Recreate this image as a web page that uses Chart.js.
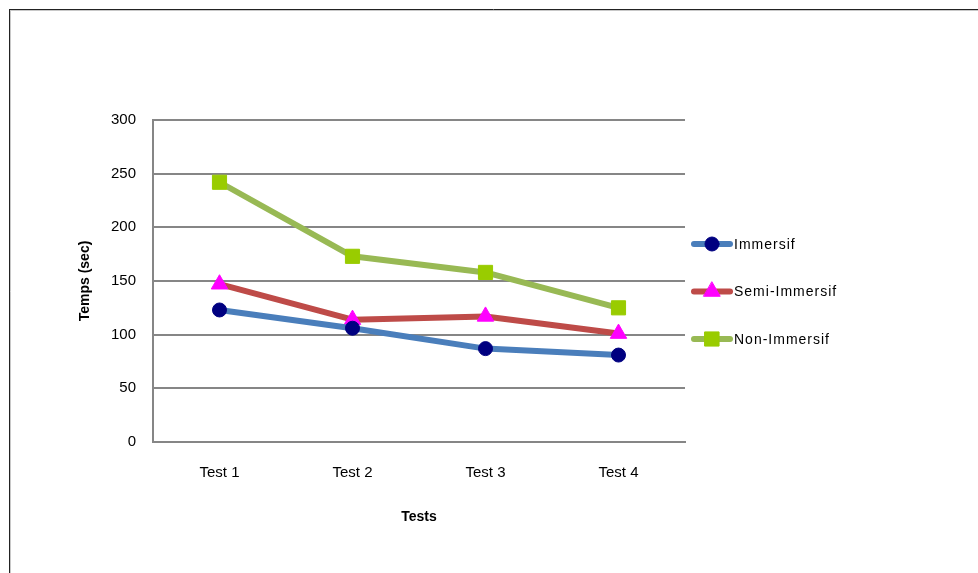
<!DOCTYPE html>
<html>
<head>
<meta charset="utf-8">
<script src="https://cdn.jsdelivr.net/npm/chart.js@4.4.1/dist/chart.umd.min.js"></script>
<style>
  html, body { margin: 0; padding: 0; background: #fff; }
  #wrap { width: 978px; height: 573px; position: relative; }
</style>
</head>
<body>
<div id="wrap"><canvas id="chart"></canvas></div>
<script>
const categories = ['Test 1', 'Test 2', 'Test 3', 'Test 4'];
const immersif = [123, 106, 87, 81];
const semiImmersif = [147, 114, 117, 101];
const nonImmersif = [242, 173, 158, 125];
const seriesNames = ['Immersif', 'Semi-Immersif', 'Non-Immersif'];

const GRID = '#868686';

// frame around the chart (top and left edges only, like the source)
const framePlugin = {
  id: 'frame',
  beforeDraw(chart) {
    const ctx = chart.ctx;
    ctx.save();
    ctx.strokeStyle = '#c8c8c8';
    ctx.lineWidth = 1;
    ctx.beginPath();
    ctx.moveTo(10, 10.5); ctx.lineTo(978, 10.5);
    ctx.moveTo(10.5, 10); ctx.lineTo(10.5, 573);
    ctx.stroke();
    ctx.strokeStyle = '#222';
    ctx.beginPath();
    ctx.moveTo(9, 9.5); ctx.lineTo(978, 9.5);
    ctx.moveTo(9.5, 9); ctx.lineTo(9.5, 573);
    ctx.stroke();
    ctx.restore();
  }
};

// legend drawn as line sample + marker, like the spreadsheet legend
const lineLegend = {
  id: 'lineLegend',
  afterDraw(chart) {
    const ctx = chart.ctx;
    const x0 = chart.chartArea.right + 6;
    const y0 = 244;
    const gap = 47.5;
    ctx.save();
    chart.data.datasets.forEach((ds, i) => {
      const y = y0 + i * gap;
      ctx.strokeStyle = ds.borderColor;
      ctx.lineWidth = 6;
      ctx.lineCap = 'round';
      ctx.beginPath();
      ctx.moveTo(x0 + 3, y);
      ctx.lineTo(x0 + 39, y);
      ctx.stroke();
      ctx.fillStyle = ds.pointBackgroundColor;
      ctx.strokeStyle = ds.pointBackgroundColor;
      ctx.lineWidth = 1;
      Chart.helpers.drawPoint(ctx, {
        pointStyle: ds.pointStyle,
        radius: ds.pointRadius,
        borderWidth: 1,
        rotation: 0
      }, x0 + 21, y);
      ctx.fillStyle = '#000';
      ctx.font = '14px "Liberation Sans", Arial, sans-serif';
      ctx.letterSpacing = '1px';
      ctx.textAlign = 'left';
      ctx.textBaseline = 'middle';
      ctx.fillText(ds.label, x0 + 43, y + 1);
    });
    ctx.restore();
  }
};

function series(label, data, line, marker, style, radius) {
  return {
    label,
    data,
    borderColor: line,
    borderWidth: 6,
    borderJoinStyle: 'round',
    borderCapStyle: 'round',
    pointStyle: style,
    pointRadius: radius,
    pointHoverRadius: radius,
    pointBackgroundColor: marker,
    pointBorderColor: marker,
    pointBorderWidth: 1,
    tension: 0
  };
}

new Chart(document.getElementById('chart'), {
  type: 'line',
  data: {
    labels: categories,
    datasets: [
      series(seriesNames[0], immersif, '#4a7ebb', '#000080', 'circle', 7),
      series(seriesNames[1], semiImmersif, '#be4b48', '#ff00ff', 'triangle', 9.5),
      series(seriesNames[2], nonImmersif, '#98b954', '#99cc00', 'rect', 10)
    ]
  },
  options: {
    responsive: true,
    maintainAspectRatio: false,
    animation: false,
    layout: { padding: { left: 73, top: 120, right: 293, bottom: 43 } },
    plugins: { legend: { display: false }, tooltip: { enabled: false } },
    scales: {
      x: {
        offset: true,
        grid: { display: false },
        border: { display: true, color: GRID, width: 2 },
        ticks: { color: '#000', padding: 14, font: { family: '"Liberation Sans", Arial, sans-serif', size: 15 } },
        title: {
          display: true,
          text: 'Tests',
          color: '#000',
          font: { family: '"Liberation Sans", Arial, sans-serif', size: 14, weight: 'bold' }
        },
        afterFit(scale) { scale.height = 88; }
      },
      y: {
        min: 0,
        max: 300,
        ticks: { stepSize: 50, color: '#000', padding: 17, font: { family: '"Liberation Sans", Arial, sans-serif', size: 15 } },
        grid: { color: GRID, lineWidth: 2, drawTicks: false },
        border: { display: true, color: GRID, width: 2 },
        title: {
          display: true,
          text: 'Temps (sec)',
          color: '#000',
          font: { family: '"Liberation Sans", Arial, sans-serif', size: 14, weight: 'bold' }
        },
        afterFit(scale) { scale.width = 80; }
      }
    }
  },
  plugins: [framePlugin, lineLegend]
});
</script>
</body>
</html>
